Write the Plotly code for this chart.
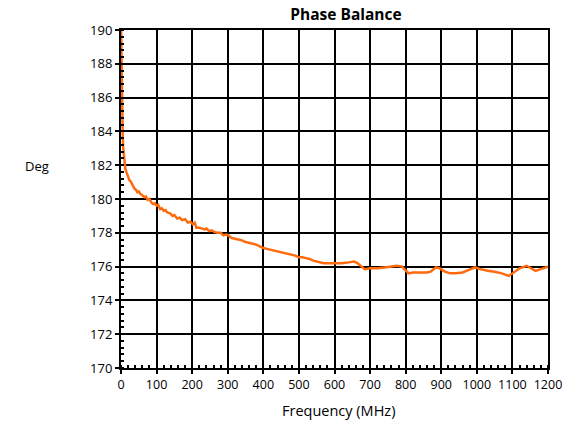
import plotly.graph_objects as go

freq = [0, 1, 2, 3, 4, 5, 6, 8, 10, 12, 15, 18, 21, 24, 27, 30, 34, 38, 42, 46, 50,
        54, 58, 62, 66, 70, 75, 80, 85, 90, 95, 100, 105, 110, 115, 120, 125, 130,
        138, 145, 150, 158, 165, 172, 180, 188, 195, 202, 207, 212, 220, 228, 235,
        240, 248, 255, 262, 270, 280, 288, 295, 302, 310, 320, 330, 340, 350, 360,
        370, 380, 390, 400, 410, 420, 430, 440, 450, 460, 470, 480, 490, 500, 510,
        520, 530, 540, 550, 560, 570, 580, 590, 600, 620, 640, 655, 665, 675, 685,
        700, 720, 740, 760, 775, 790, 800, 808, 820, 840, 860, 870, 885, 895, 910,
        925, 940, 960, 980, 995, 1010, 1030, 1050, 1070, 1090, 1105, 1120, 1140,
        1150, 1165, 1180, 1200]
phase = [190.5, 188.5, 186.5, 185.0, 184.2, 183.6, 183.1, 182.6, 182.1, 181.8, 181.6,
         181.4, 181.3, 181.1, 181.05, 180.9, 180.8, 180.6, 180.55, 180.4, 180.45,
         180.3, 180.25, 180.2, 180.1, 180.15, 179.95, 180.0, 179.8, 179.7, 179.75,
         179.6, 179.65, 179.4, 179.45, 179.3, 179.35, 179.2, 179.15, 179.0, 179.05,
         178.85, 178.9, 178.75, 178.8, 178.6, 178.65, 178.5, 178.6, 178.3, 178.3,
         178.25, 178.2, 178.25, 178.1, 178.15, 178.05, 178.0, 178.0, 177.85, 177.9,
         177.85, 177.7, 177.65, 177.6, 177.55, 177.45, 177.4, 177.35, 177.3, 177.2,
         177.1, 177.05, 177.0, 176.95, 176.9, 176.85, 176.8, 176.75, 176.7, 176.65,
         176.55, 176.55, 176.5, 176.45, 176.35, 176.3, 176.25, 176.2, 176.2, 176.2,
         176.2, 176.2, 176.25, 176.3, 176.2, 176.0, 175.85, 175.9, 175.9, 175.95,
         176.0, 176.05, 176.0, 175.75, 175.6, 175.65, 175.65, 175.65, 175.7, 175.95,
         175.9, 175.7, 175.6, 175.6, 175.65, 175.8, 175.95, 175.85, 175.75, 175.7,
         175.6, 175.45, 175.7, 175.9, 176.05, 175.95, 175.75, 175.85, 176.0]

title_text = "Phase Balance"
x_title = "Frequency (MHz)"
y_title = "Deg"

FONT = "Open Sans, Noto Sans, Arial, sans-serif"

W, H = 566, 422
L, R, T, B = 121, 18, 30, 54
PW, PH = W - L - R, H - T - B

fig = go.Figure()
fig.add_trace(go.Scatter(x=freq, y=phase, mode="lines",
                         line=dict(color="#FF6A0D", width=2.5), showlegend=False,
                         cliponaxis=True))

fig.update_layout(
    width=W, height=H,
    margin=dict(l=L, r=R, t=T, b=B, autoexpand=False),
    paper_bgcolor="white", plot_bgcolor="white",
    font=dict(family=FONT, size=13, color="black"),
    title=dict(text="<b>" + title_text + "</b>", x=346 / W, xanchor="center",
               y=1 - 15 / H, yanchor="middle", font=dict(size=15.5, family=FONT)),
    annotations=[
        dict(text=y_title, xref="paper", yref="paper",
             x=(37 - L) / PW, y=(T + PH - 166) / PH, xanchor="center",
             yanchor="middle", showarrow=False, font=dict(size=13)),
        dict(text=x_title, xref="paper", yref="paper",
             x=(338.5 - L) / PW, y=(T + PH - 410) / PH, xanchor="center",
             yanchor="middle", showarrow=False, font=dict(size=14.5)),
    ],
)
fig.update_xaxes(
    range=[0, 1200], dtick=100, tick0=0, automargin=False,
    showgrid=True, gridcolor="black", gridwidth=1.5,
    showline=True, linecolor="black", linewidth=2, mirror=True,
    ticks="outside", ticklen=4, tickcolor="black", tickwidth=1.5,
    minor=dict(dtick=20, ticks="inside", ticklen=3, tickcolor="black", tickwidth=1.5, showgrid=False),
    zeroline=False,
    tickfont=dict(size=12.5),
)
fig.update_yaxes(
    range=[170, 190], dtick=2, tick0=170, automargin=False,
    showgrid=True, gridcolor="black", gridwidth=1.5,
    showline=True, linecolor="black", linewidth=2, mirror=True,
    ticks="outside", ticklen=4, tickcolor="black", tickwidth=1.5,
    minor=dict(dtick=0.4, ticks="inside", ticklen=3, tickcolor="black", tickwidth=1.5, showgrid=False),
    zeroline=False,
    tickfont=dict(size=13),
)

fig.write_html("out.html", config={"displayModeBar": False},
               post_script="document.body.style.margin='0';")
